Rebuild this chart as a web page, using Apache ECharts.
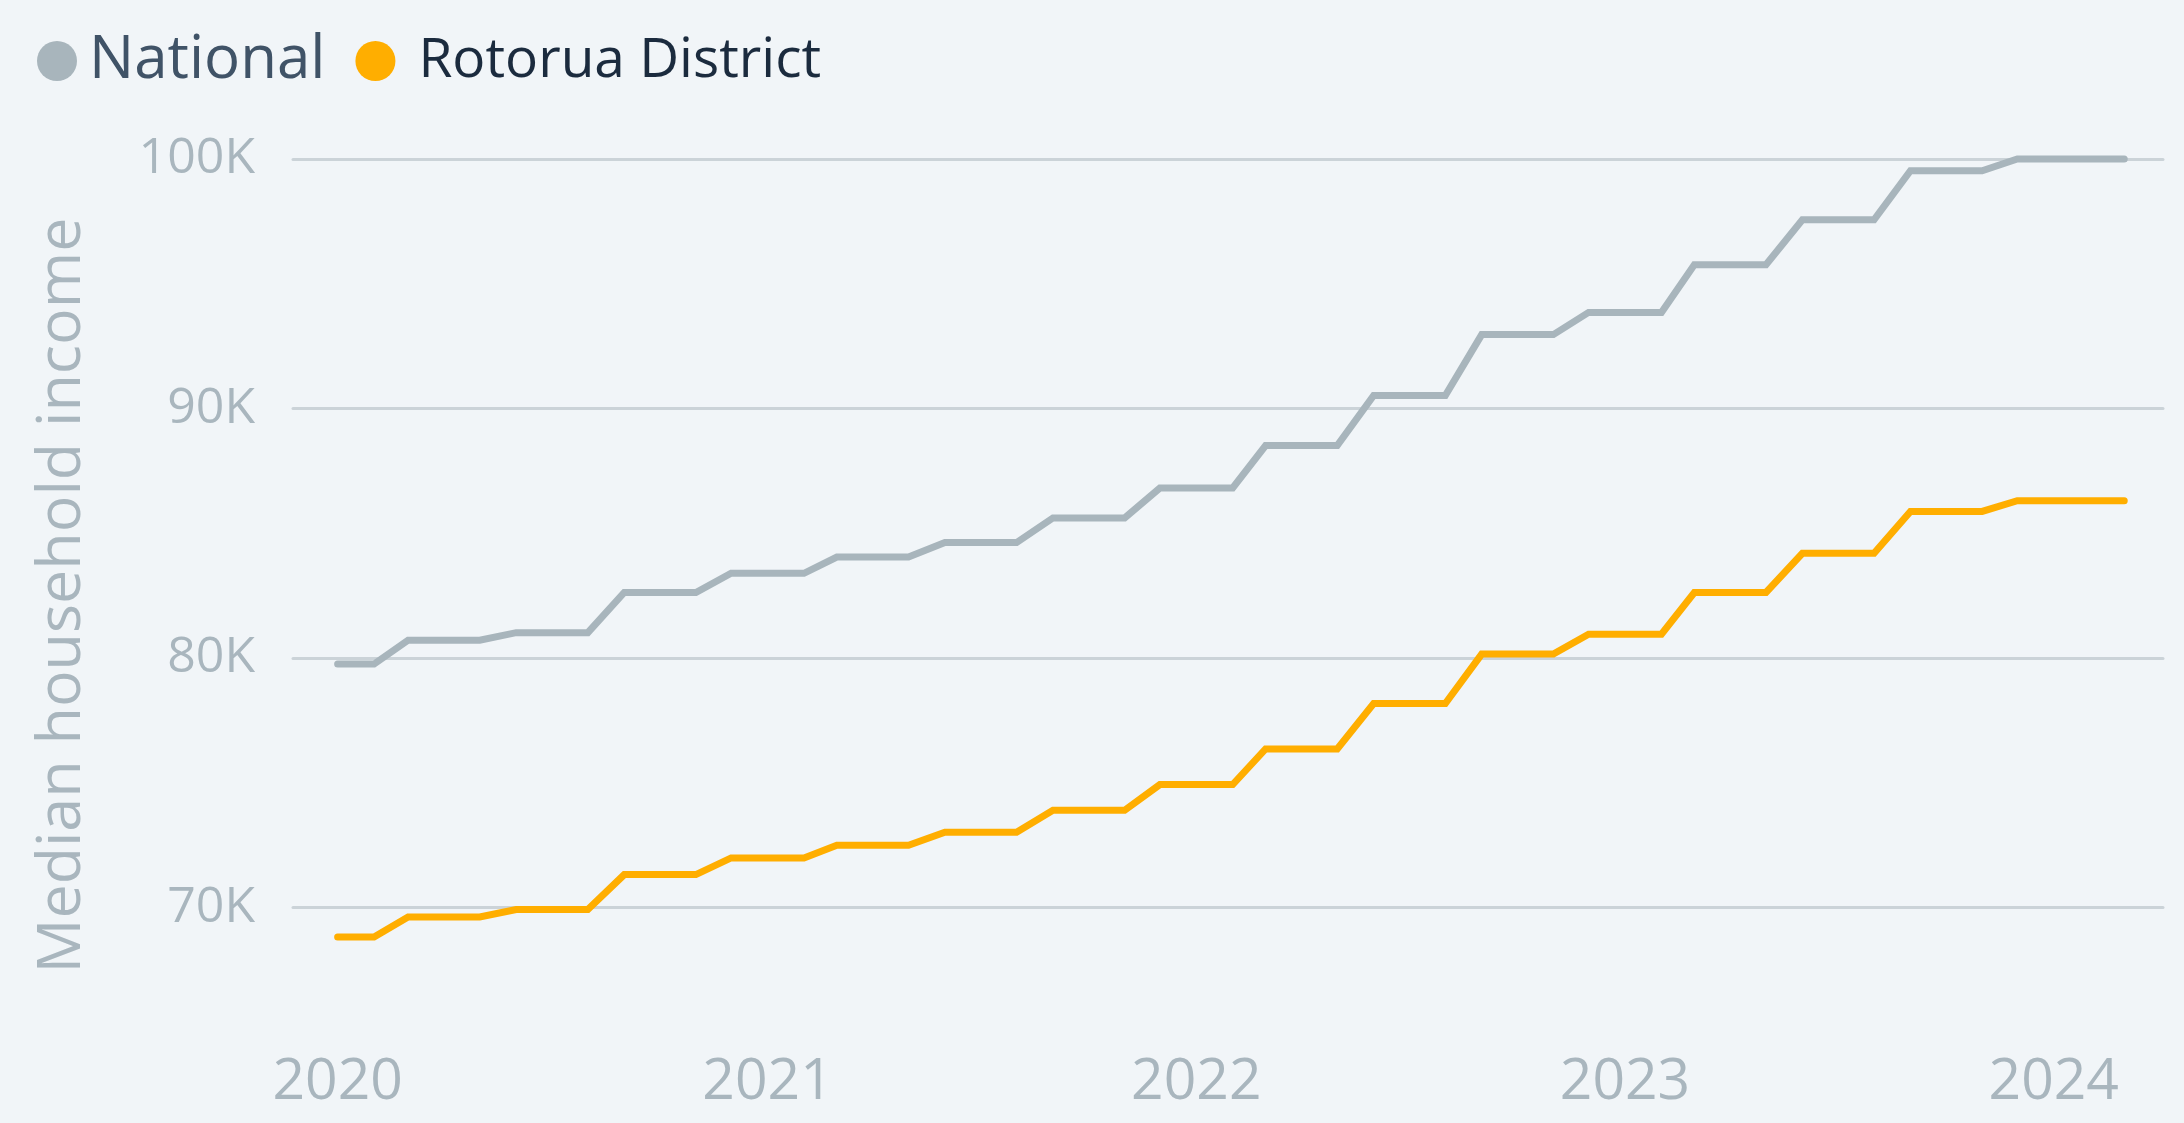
<!DOCTYPE html>
<html><head><meta charset="utf-8">
<script src="https://cdn.jsdelivr.net/npm/echarts@6/dist/echarts.min.js"></script>
<style>html,body{margin:0;padding:0;background:#f1f5f8;}#c{width:2184px;height:1123px;}</style>
</head><body><div id="c"></div>
<script>
const months = [
  '2020-01-01','2020-02-01','2020-03-01','2020-04-01','2020-05-01','2020-06-01','2020-07-01','2020-08-01','2020-09-01','2020-10-01','2020-11-01','2020-12-01',
  '2021-01-01','2021-02-01','2021-03-01','2021-04-01','2021-05-01','2021-06-01','2021-07-01','2021-08-01','2021-09-01','2021-10-01','2021-11-01','2021-12-01',
  '2022-01-01','2022-02-01','2022-03-01','2022-04-01','2022-05-01','2022-06-01','2022-07-01','2022-08-01','2022-09-01','2022-10-01','2022-11-01','2022-12-01',
  '2023-01-01','2023-02-01','2023-03-01','2023-04-01','2023-05-01','2023-06-01','2023-07-01','2023-08-01','2023-09-01','2023-10-01','2023-11-01','2023-12-01',
  '2024-01-01','2024-02-01','2024-03-01'
];
const national = [
  79750, 79750,
  80710, 80710, 80710,
  81010, 81010, 81010,
  82620, 82620, 82620,
  83390, 83390, 83390,
  84040, 84040, 84040,
  84620, 84620, 84620,
  85610, 85610, 85610,
  86810, 86810, 86810,
  88510, 88510, 88510,
  90520, 90520, 90520,
  92960, 92960, 92960,
  93850, 93850, 93850,
  95760, 95760, 95760,
  97560, 97560, 97560,
  99530, 99530, 99530,
  100000, 100000, 100000, 100000
];
const rotorua = [
  68810, 68810,
  69610, 69610, 69610,
  69910, 69910, 69910,
  71310, 71310, 71310,
  71980, 71980, 71980,
  72490, 72490, 72490,
  73010, 73010, 73010,
  73890, 73890, 73890,
  74920, 74920, 74920,
  76350, 76350, 76350,
  78170, 78170, 78170,
  80150, 80150, 80150,
  80950, 80950, 80950,
  82620, 82620, 82620,
  84190, 84190, 84190,
  85870, 85870, 85870,
  86300, 86300, 86300, 86300
];
const seriesNames = ['National', 'Rotorua District'];
const yAxisTitle = 'Median household income';

const FONT = 'Open Sans';
const labelColor = '#a9b6be';
const chart = echarts.init(document.getElementById('c'));
const DAY = 86400000;
chart.setOption({
  backgroundColor: '#f1f5f8',
  animation: false,
  legend: {
    left: 32, top: 26,
    itemWidth: 40, itemHeight: 40, itemGap: 30,
    icon: 'circle',
    data: [
      { name: seriesNames[0], textStyle: { fontFamily: FONT, fontSize: 60, color: '#405367', padding: [0,0,0,7] } },
      { name: seriesNames[1], textStyle: { fontFamily: FONT, fontSize: 55, color: '#1b2b3e', padding: [0,0,0,18] } }
    ]
  },
  grid: { left: 293, right: 21, top: 159, bottom: 91, containLabel: false },
  xAxis: {
    type: 'time',
    min: '2019-11-24', max: '2024-04-03',
    minInterval: 365 * DAY, maxInterval: 366 * DAY,
    axisLine: { show: false }, axisTick: { show: false }, splitLine: { show: false },
    axisLabel: { formatter: '{yyyy}', fontFamily: FONT, fontSize: 57, color: labelColor, margin: 22, hideOverlap: false }
  },
  yAxis: {
    type: 'value',
    min: 65000, max: 100000,
    minInterval: 10000, maxInterval: 10000,
    name: yAxisTitle, nameLocation: 'middle', nameGap: 200,
    nameTextStyle: { fontFamily: FONT, fontSize: 61, color: labelColor },
    axisLine: { show: false }, axisTick: { show: false },
    axisLabel: { formatter: v => (v / 1000) + 'K', fontFamily: FONT, fontSize: 50, color: labelColor, margin: 38, showMinLabel: false },
    splitLine: { show: true, showMinLine: false, lineStyle: { color: '#cbd3d8', width: 3, cap: 'round' } }
  },
  series: [
    { name: seriesNames[0], type: 'line', data: months.map((m, i) => [m, national[i]]),
      showSymbol: false, clip: false, color: '#a8b5bc',
      lineStyle: { width: 7, color: '#a8b5bc', cap: 'round', join: 'miter' } },
    { name: seriesNames[1], type: 'line', data: months.map((m, i) => [m, rotorua[i]]),
      showSymbol: false, clip: false, color: '#ffae00',
      lineStyle: { width: 7, color: '#ffae00', cap: 'round', join: 'miter' } }
  ]
});
</script></body></html>
